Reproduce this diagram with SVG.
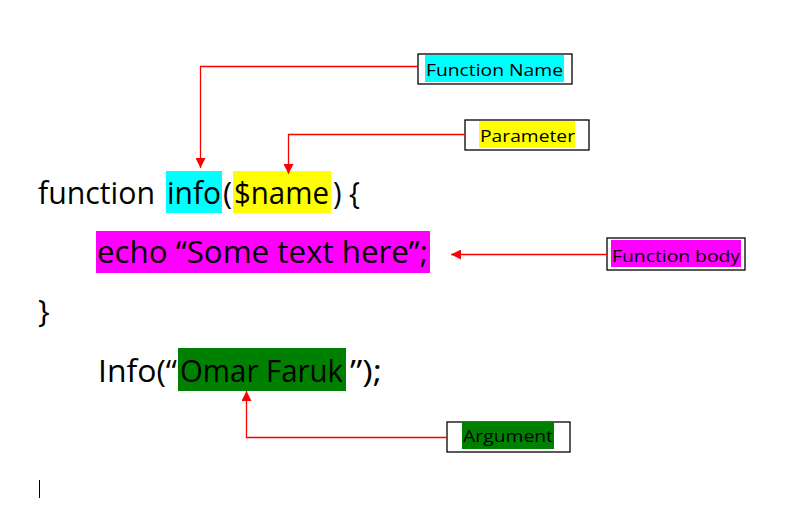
<svg xmlns="http://www.w3.org/2000/svg" width="793" height="512" viewBox="0 0 793 512">
<style>
.code{font-family:"Open Sans","Liberation Sans",sans-serif;font-size:31px;fill:#000}
.lbl{font-family:"Open Sans","Liberation Sans",sans-serif;font-size:17px;fill:#000}
.box{fill:#fff;stroke:#000;stroke-width:1.3}
.conn{fill:none;stroke:#f00;stroke-width:1.3}
</style>
<defs>
<marker id="ah" viewBox="0 0 10 10" refX="10" refY="5" markerWidth="10" markerHeight="10" markerUnits="userSpaceOnUse" orient="auto">
<path d="M0,0 L10,5 L0,10 z" fill="#f00"/>
</marker>
</defs>
<rect width="793" height="512" fill="#fff"/>
<g id="code">
<rect x="166" y="171" width="56" height="42" fill="#00ffff"/>
<rect x="233" y="171" width="98" height="42" fill="#ffff00"/>
<rect x="96" y="231" width="334" height="42" fill="#ff00ff"/>
<rect x="178" y="348" width="168" height="43" fill="#008000"/>
<text class="code" y="204"><tspan x="38" textLength="117" lengthAdjust="spacingAndGlyphs">function</tspan><tspan x="167" textLength="54" lengthAdjust="spacingAndGlyphs">info</tspan><tspan x="223">(</tspan><tspan x="234" textLength="95" lengthAdjust="spacingAndGlyphs">$name</tspan><tspan x="333" textLength="27" lengthAdjust="spacingAndGlyphs">) {</tspan></text>
<text class="code" x="97" y="263" textLength="331" lengthAdjust="spacingAndGlyphs">echo “Some text here”;</text>
<text class="code" x="38" y="322">}</text>
<text class="code" y="382"><tspan x="98" textLength="79" lengthAdjust="spacingAndGlyphs">Info(“</tspan><tspan x="180" textLength="163" lengthAdjust="spacingAndGlyphs">Omar Faruk</tspan><tspan x="350" textLength="32" lengthAdjust="spacingAndGlyphs">”);</tspan></text>
<line x1="39.5" y1="480" x2="39.5" y2="498" stroke="#000" stroke-width="1"/>
</g>
<g id="function-name">
<rect class="box" x="418" y="54" width="154" height="30"/>
<rect x="425" y="55" width="139" height="27" fill="#00ffff"/>
<text class="lbl" x="426" y="76" textLength="137" lengthAdjust="spacingAndGlyphs">Function Name</text>
</g>
<g id="parameter">
<rect class="box" x="465" y="120" width="124" height="30"/>
<rect x="479" y="121" width="96" height="27" fill="#ffff00"/>
<text class="lbl" x="480" y="142" textLength="95" lengthAdjust="spacingAndGlyphs">Parameter</text>
</g>
<g id="function-body">
<rect class="box" x="607" y="238" width="138" height="32"/>
<rect x="611" y="240" width="130" height="27" fill="#ff00ff"/>
<text class="lbl" x="612" y="262" textLength="128" lengthAdjust="spacingAndGlyphs">Function body</text>
</g>
<g id="argument">
<rect class="box" x="447" y="422" width="123" height="30"/>
<rect x="462" y="422" width="92" height="27" fill="#008000"/>
<text class="lbl" x="463" y="442" textLength="90" lengthAdjust="spacingAndGlyphs">Argument</text>
</g>
<g id="connectors">
<polyline class="conn" points="418,66.5 200.5,66.5 200.5,168" marker-end="url(#ah)"/>
<polyline class="conn" points="465,134.5 288.5,134.5 288.5,174" marker-end="url(#ah)"/>
<line class="conn" x1="607" y1="254.5" x2="451" y2="254.5" marker-end="url(#ah)"/>
<polyline class="conn" points="447,437.5 246.5,437.5 246.5,391" marker-end="url(#ah)"/>
</g>
</svg>
